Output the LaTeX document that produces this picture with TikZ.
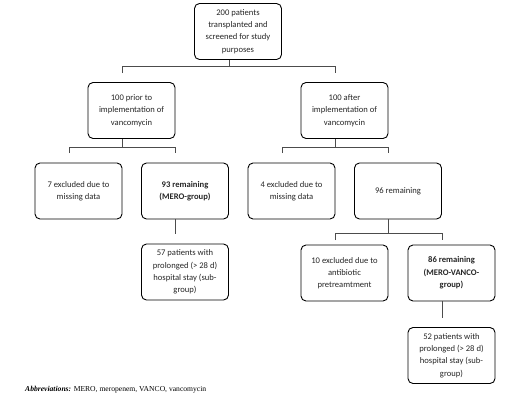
\documentclass[tikz,border=0pt]{standalone}
\usepackage{fontspec}
\setmainfont{Carlito}
\newfontfamily\abbrfont{Liberation Serif}
\begin{document}
\begin{tikzpicture}[x=1pt,y=-1pt,
  box/.style={draw=black, line width=0.9pt, rounded corners=5pt, minimum width=87pt, minimum height=56pt, inner sep=0pt, align=center, font=\fontsize{8.6}{12.3}\selectfont, text=black!85},
  conn/.style={draw=black!70, line width=1pt}]
\useasboundingbox (0,0) rectangle (505,402);
% nodes
\node[box] (n200) at (238,31.5) {200 patients\\transplanted and\\screened for study\\purposes};
\node[box] (nprior) at (131.5,110.5) {100 prior to\\implementation of\\vancomycin};
\node[box] (nafter) at (344.5,110.5) {100 after\\implementation of\\vancomycin};
\node[box] (n7) at (78.5,191) {7 excluded due to\\missing data};
\node[box] (n93) at (185,191) {\textbf{93 remaining}\\\textbf{(MERO-group)}};
\node[box] (n4) at (291.5,191) {4 excluded due to\\missing data};
\node[box] (n96) at (398,191) {96 remaining};
\node[box] (n57) at (185,272) {57 patients with\\prolonged (> 28 d)\\hospital stay (sub-\\group)};
\node[box] (n10) at (344.5,273) {10 excluded due to\\antibiotic\\pretreamtment};
\node[box] (n86) at (451.5,273) {\textbf{86 remaining}\\\textbf{(MERO-VANCO-}\\\textbf{group)}};
\node[box] (n52) at (451.5,355.5) {52 patients with\\prolonged (> 28 d)\\hospital stay (sub-\\group)};
% junction coordinates
\coordinate (t0) at (229,66);
\coordinate (tL) at (122,66);
\coordinate (tR) at (335,66);
\coordinate (tLe) at (122,73);
\coordinate (tRe) at (335,73);
\coordinate (p0) at (122,147);
\coordinate (pL) at (69,147);
\coordinate (pR) at (175,147);
\coordinate (pLe) at (69,153);
\coordinate (pRe) at (175,153);
\coordinate (a0) at (335,147);
\coordinate (aL) at (282,147);
\coordinate (aR) at (388,147);
\coordinate (aLe) at (282,153);
\coordinate (aRe) at (388,153);
\coordinate (m57) at (175,234);
\coordinate (r0) at (388,233);
\coordinate (rL) at (335,233);
\coordinate (rR) at (442,233);
\coordinate (rLe) at (335,240);
\coordinate (rRe) at (442,240);
\coordinate (m52) at (442,318);
% connectors
\draw[conn] (n200.south -| t0) -- (t0);
\draw[conn] (tLe) -- (tL) -- (tR) -- (tRe);
\draw[conn] (nprior.south -| p0) -- (p0);
\draw[conn] (pLe) -- (pL) -- (pR) -- (pRe);
\draw[conn] (nafter.south -| a0) -- (a0);
\draw[conn] (aLe) -- (aL) -- (aR) -- (aRe);
\draw[conn] (n93.south -| m57) -- (m57);
\draw[conn] (n96.south -| r0) -- (r0);
\draw[conn] (rLe) -- (rL) -- (rR) -- (rRe);
\draw[conn] (n86.south -| m52) -- (m52);
% abbreviations
\node[anchor=base west, inner sep=0pt, font=\abbrfont\fontsize{7.6}{9}\selectfont] (abbr) at (25,391) {\textbf{\textit{Abbreviations:}} MERO, meropenem, VANCO, vancomycin};
\end{tikzpicture}
\end{document}
